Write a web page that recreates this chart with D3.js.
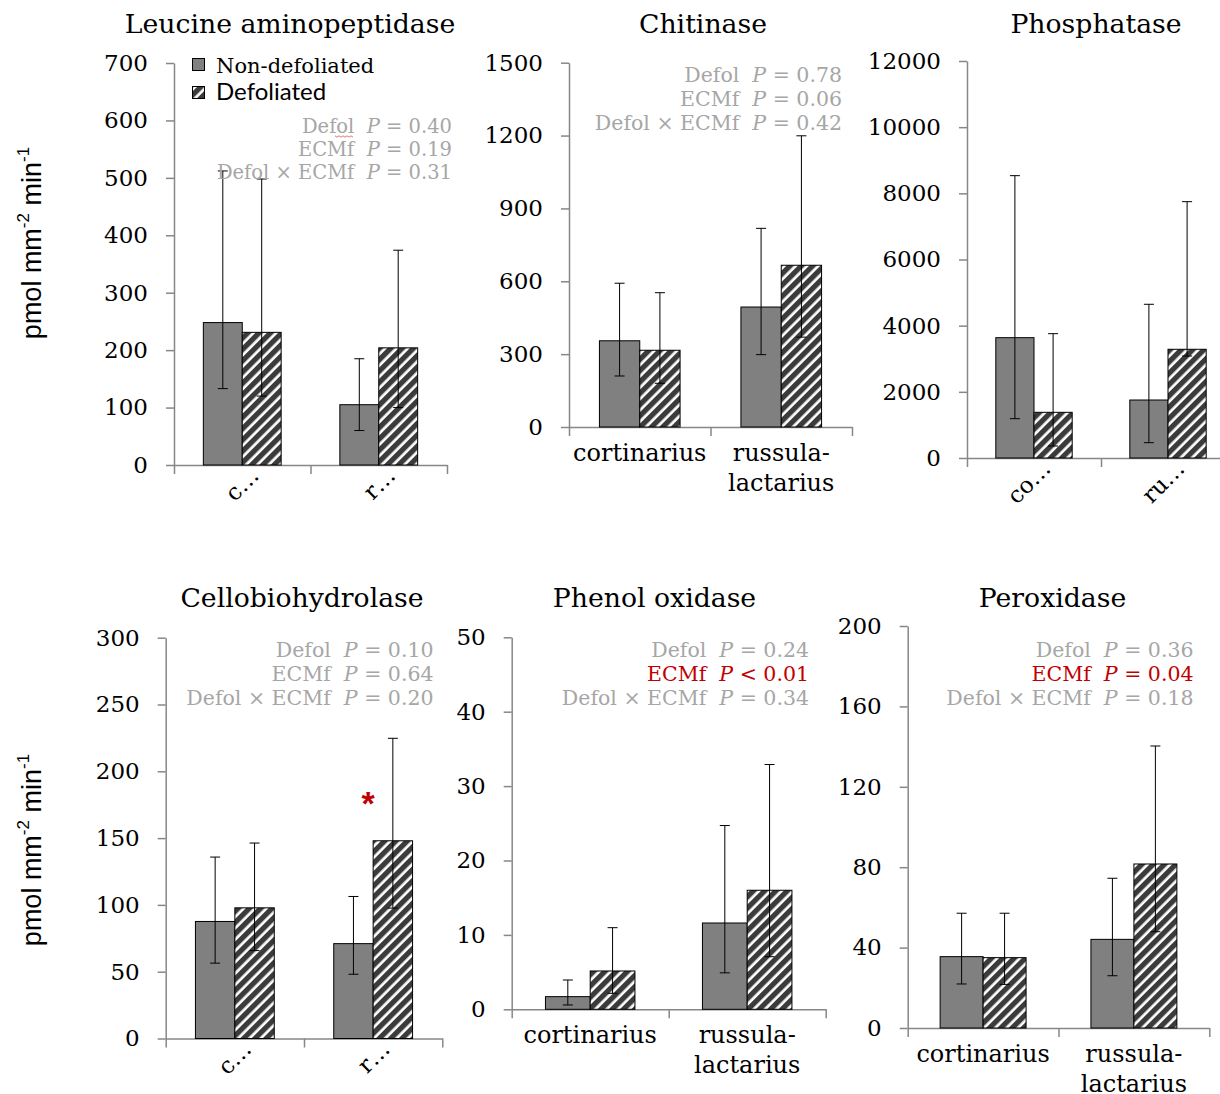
<!DOCTYPE html>
<html>
<head>
<meta charset="utf-8">
<script src="https://cdn.jsdelivr.net/npm/d3@7"></script>
<style>
  body { margin: 0; background: #fff; }
  svg { display: block; }
  text { white-space: pre; }
</style>
</head>
<body>
<svg id="chart" width="1220" height="1094"></svg>
<script>
// Extracellular enzyme activities of ectomycorrhizal root tips
const enzymes = ["Leucine aminopeptidase", "Chitinase", "Phosphatase",
                 "Cellobiohydrolase", "Phenol oxidase", "Peroxidase"];
const groups = ["cortinarius", "russula-lactarius"];
const groupLabelLines = [["cortinarius"], ["russula-", "lactarius"]];
const groupShort1 = ["c…", "r…"];
const groupShort2 = ["co…", "ru…"];
const series = ["Non-defoliated", "Defoliated"];

// means and error-bar bounds, [cortinarius, russula-lactarius]
const nonDefMean = [[248, 105], [355, 494], [3637, 1753], [87.6, 71.0], [1.7, 11.6], [35.5, 44.1]];
const nonDefLow  = [[133, 60],  [210, 298], [1188, 463], [56.4, 48.1], [0.58, 4.9], [21.9, 26.0]];
const nonDefHigh = [[512, 185], [592, 818], [8534, 4646], [135.8, 106.3], [3.94, 24.7], [57.1, 74.5]];
const defMean    = [[231, 204], [316, 666], [1381, 3286], [97.8, 148.0], [5.15, 16.0], [35.0, 81.6]];
const defLow     = [[120, 100], [180, 370], [363, 3083], [65.8, 97.6], [2.15, 7.07], [21.7, 47.9]];
const defHigh    = [[498, 374], [553, 1199], [3758, 7748], [146.3, 224.7], [10.97, 32.9], [57.1, 140.3]];

const yMax  = [700, 1500, 12000, 300, 50, 200];
const yStep = [100, 300, 2000, 50, 10, 40];

// ANOVA results: [term, operator, value, significant]
const pTests = [
  [["Defol", "=", "0.40", false], ["ECMf", "=", "0.19", false], ["Defol × ECMf", "=", "0.31", false]],
  [["Defol", "=", "0.78", false], ["ECMf", "=", "0.06", false], ["Defol × ECMf", "=", "0.42", false]],
  [],
  [["Defol", "=", "0.10", false], ["ECMf", "=", "0.64", false], ["Defol × ECMf", "=", "0.20", false]],
  [["Defol", "=", "0.24", false], ["ECMf", "<", "0.01", true],  ["Defol × ECMf", "=", "0.34", false]],
  [["Defol", "=", "0.36", false], ["ECMf", "=", "0.04", true],  ["Defol × ECMf", "=", "0.18", false]]
];
// pairwise difference marker: [panel, group, series]
const starMarks = [[3, 1, 1]];

// panel geometry
const layout = [
  { x0: 174,   x1: 447,    yTop: 63,    y0: 465,    tx: 290,    ty: 33,  px: 452,    py: 133, pdy: 23, pfs: 19.5, mode: "short1" },
  { x0: 569,   x1: 852,    yTop: 62.7,  y0: 427,    tx: 703,    ty: 33,  px: 842,    py: 81.5, pdy: 24, pfs: 20.5, mode: "wrap" },
  { x0: 967,   x1: 1235,   yTop: 61,    y0: 458,    tx: 1096,   ty: 33,  mode: "short2" },
  { x0: 165.7, x1: 442.3,  yTop: 637.7, y0: 1038.5, tx: 302,    ty: 607, px: 433.5,  py: 657, pdy: 24, pfs: 20.5, mode: "short1" },
  { x0: 511.7, x1: 825.7,  yTop: 637.3, y0: 1009.3, tx: 654.5,  ty: 607, px: 809,    py: 657, pdy: 24, pfs: 20.5, mode: "wrap" },
  { x0: 907.7, x1: 1209.3, yTop: 626,   y0: 1028,   tx: 1052.5, ty: 607, px: 1193.5, py: 657, pdy: 24, pfs: 20.5, mode: "wrap" }
];

const SERIF = "'DejaVu Serif', serif";
const SANS = "'Liberation Sans', Arial, sans-serif";
const AXIS = "#878787";
const GREY_BAR = "#808080";
const HATCH_DARK = "#3b3b3b";
const P_GREY = "#a6a6a6";
const P_RED = "#c00000";

const svg = d3.select("#chart");
const defs = svg.append("defs");
const hatch = defs.append("pattern")
  .attr("id", "hatch")
  .attr("patternUnits", "userSpaceOnUse")
  .attr("width", 8).attr("height", 8)
  .attr("patternTransform", "rotate(45)");
hatch.append("rect").attr("width", 8).attr("height", 8).attr("fill", "#fff");
hatch.append("rect").attr("width", 5.3).attr("height", 8).attr("fill", HATCH_DARK);

const fills = [GREY_BAR, "url(#hatch)"];

enzymes.forEach((name, i) => {
  const L = layout[i];
  const g = svg.append("g").attr("class", "panel");

  const y = d3.scaleLinear().domain([0, yMax[i]]).range([L.y0, L.yTop]);
  const x = d3.scaleBand().domain(groups).range([L.x0, L.x1])
    .paddingInner(0.43).paddingOuter(0.215);
  const xs = d3.scaleBand().domain(series).range([0, x.bandwidth()]);

  // title
  g.append("text")
    .attr("x", L.tx).attr("y", L.ty)
    .attr("text-anchor", "middle")
    .attr("font-family", SERIF).attr("font-size", 26.7)
    .attr("fill", "#000")
    .text(name);

  // y axis
  const yAxis = d3.axisLeft(y)
    .tickValues(d3.range(0, yMax[i] + yStep[i] / 2, yStep[i]))
    .tickSize(8).tickSizeOuter(0).tickPadding(18)
    .tickFormat(d3.format("d"));
  const ya = g.append("g").attr("transform", `translate(${L.x0},0)`).call(yAxis);
  ya.select(".domain").attr("stroke", AXIS).attr("stroke-width", 1.5);
  ya.selectAll(".tick line").attr("stroke", AXIS).attr("stroke-width", 1.5);
  ya.selectAll(".tick text")
    .attr("font-family", SERIF).attr("font-size", 23).attr("fill", "#000");

  // x axis with category dividers
  const xDiv = d3.scaleLinear().domain([0, groups.length]).range([L.x0, L.x1]);
  const xa = g.append("g").attr("transform", `translate(0,${L.y0})`)
    .call(d3.axisBottom(xDiv).tickValues(d3.range(groups.length + 1))
      .tickSize(9).tickSizeOuter(0).tickFormat(""));
  xa.select(".domain").attr("stroke", AXIS).attr("stroke-width", 1.5);
  xa.selectAll(".tick line").attr("stroke", AXIS).attr("stroke-width", 1.5);

  // bars
  const rows = [];
  groups.forEach((grp, gi) => {
    rows.push({ grp, s: 0, mean: nonDefMean[i][gi], lo: nonDefLow[i][gi], hi: nonDefHigh[i][gi] });
    rows.push({ grp, s: 1, mean: defMean[i][gi], lo: defLow[i][gi], hi: defHigh[i][gi] });
  });
  g.selectAll("rect.bar").data(rows).join("rect")
    .attr("class", "bar")
    .attr("x", d => x(d.grp) + xs(series[d.s]))
    .attr("y", d => y(d.mean))
    .attr("width", xs.bandwidth())
    .attr("height", d => y(0) - y(d.mean))
    .attr("fill", d => fills[d.s])
    .attr("stroke", "#000").attr("stroke-width", 1);

  // error bars
  const eb = g.selectAll("g.err").data(rows).join("g").attr("class", "err")
    .attr("transform", d => `translate(${x(d.grp) + xs(series[d.s]) + xs.bandwidth() / 2},0)`);
  eb.append("line").attr("y1", d => y(d.lo)).attr("y2", d => y(d.hi))
    .attr("stroke", "#000").attr("stroke-width", 1);
  eb.append("line").attr("x1", -5).attr("x2", 5).attr("y1", d => y(d.hi)).attr("y2", d => y(d.hi))
    .attr("stroke", "#000").attr("stroke-width", 1);
  eb.append("line").attr("x1", -5).attr("x2", 5).attr("y1", d => y(d.lo)).attr("y2", d => y(d.lo))
    .attr("stroke", "#000").attr("stroke-width", 1);

  // category labels
  const cx = d => x(d) + x.bandwidth() / 2;
  if (L.mode === "wrap") {
    groups.forEach((grp, gi) => {
      const t = g.append("text")
        .attr("text-anchor", "middle")
        .attr("font-family", SERIF).attr("font-size", 24).attr("fill", "#000");
      groupLabelLines[gi].forEach((line, li) => {
        t.append("tspan").attr("x", cx(grp)).attr("y", L.y0 + 34 + li * 29.5).text(line);
      });
    });
  } else {
    const short = L.mode === "short1" ? groupShort1 : groupShort2;
    groups.forEach((grp, gi) => {
      g.append("text")
        .attr("transform", `translate(${cx(grp) + 18},${L.y0 + 12}) rotate(-45)`)
        .attr("text-anchor", "end")
        .attr("font-family", SERIF).attr("font-size", 23).attr("fill", "#000")
        .text(short[gi]);
    });
  }

  // test statistics
  pTests[i].forEach((tst, k) => {
    const [term, op, val, sig] = tst;
    const t = g.append("text")
      .attr("x", L.px).attr("y", L.py + k * L.pdy)
      .attr("text-anchor", "end")
      .attr("font-family", SERIF).attr("font-size", L.pfs)
      .attr("fill", sig ? P_RED : P_GREY);
    t.append("tspan").text(term + "  ");
    t.append("tspan").attr("font-style", "italic").text("P");
    t.append("tspan").text(` ${op} ${val}`);
  });

  // significance markers
  starMarks.filter(m => m[0] === i).forEach(([, gi, s]) => {
    const grp = groups[gi];
    const bx = x(grp) + xs(series[s]);
    g.append("text")
      .attr("x", bx - 5).attr("y", y(defMean[i][gi]) - 26)
      .attr("text-anchor", "middle")
      .attr("font-family", SANS).attr("font-weight", "bold").attr("font-size", 34)
      .attr("fill", P_RED)
      .text("*");
  });
});

// spell-check squiggle under "fol" in the first panel's statistics
(function () {
  const pts = d3.range(0, 10).map(k => [335 + k * 2, 136 + (k % 2 ? 1.2 : -0.2)]);
  svg.append("path").attr("d", d3.line()(pts))
    .attr("fill", "none").attr("stroke", "#e05050").attr("stroke-width", 0.8);
})();

// legend
const legend = svg.append("g").attr("transform", "translate(192,58)");
legend.append("rect").attr("x", 0.5).attr("y", 0.5).attr("width", 12).attr("height", 12)
  .attr("fill", GREY_BAR).attr("stroke", "#000").attr("stroke-width", 1);
legend.append("text").attr("x", 24).attr("y", 15)
  .attr("font-family", SERIF).attr("font-size", 21).attr("fill", "#000")
  .text(series[0]);
legend.append("rect").attr("x", 0.5).attr("y", 28.5).attr("width", 12).attr("height", 12)
  .attr("fill", "url(#hatch)").attr("stroke", "#000").attr("stroke-width", 1);
legend.append("text").attr("x", 24).attr("y", 42)
  .attr("font-family", "Lato, sans-serif").attr("font-size", 24).attr("fill", "#000")
  .text(series[1]);

// shared y-axis titles
[243, 850].forEach(cy => {
  const t = svg.append("text")
    .attr("transform", `translate(41,${cy}) rotate(-90)`)
    .attr("text-anchor", "middle")
    .attr("font-family", SANS).attr("font-size", 27).attr("fill", "#000");
  t.append("tspan").text("pmol mm");
  t.append("tspan").attr("font-size", 17).attr("dy", -12).text("-2");
  t.append("tspan").attr("dy", 12).text(" min");
  t.append("tspan").attr("font-size", 17).attr("dy", -12).text("-1");
});
</script>
</body>
</html>
